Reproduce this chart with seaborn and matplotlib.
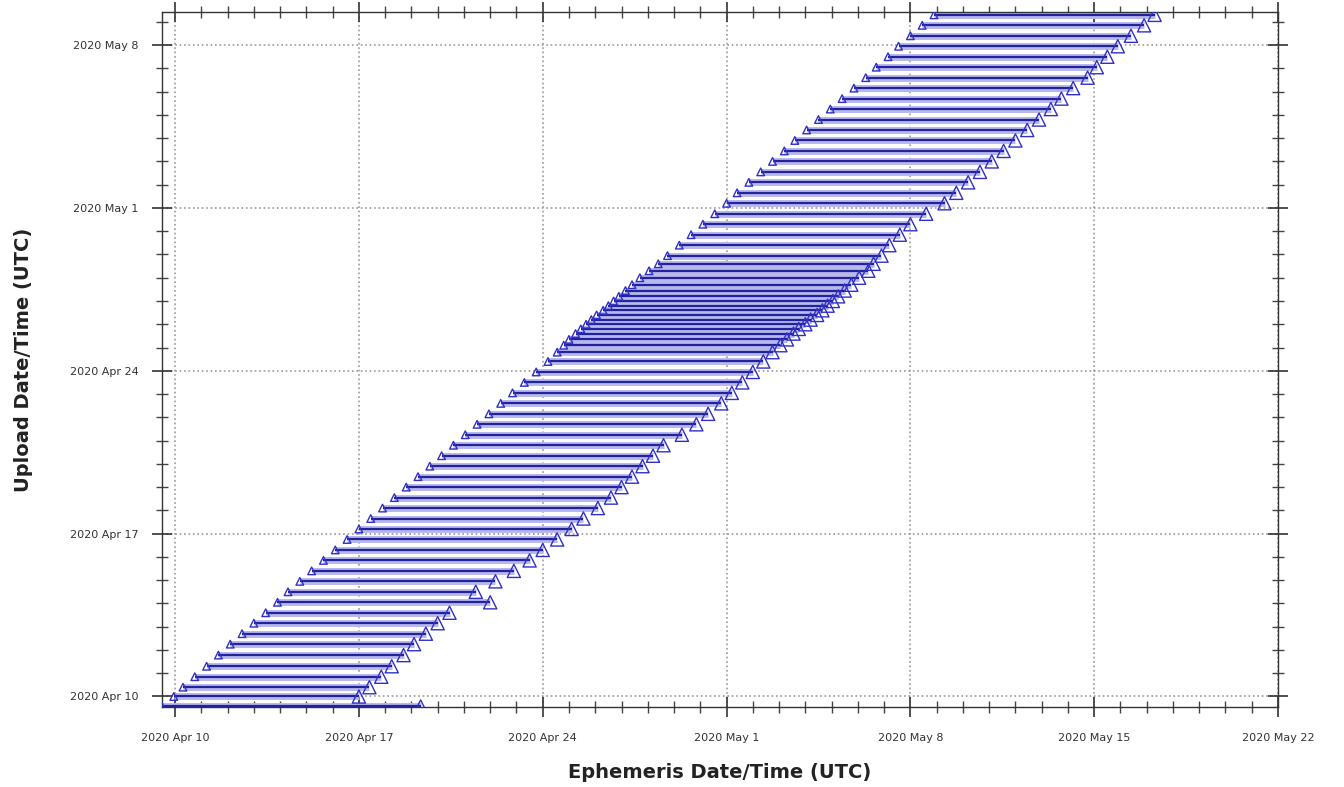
import matplotlib
matplotlib.use("Agg")
import matplotlib.pyplot as plt
import matplotlib.dates as mdates
from matplotlib.ticker import FuncFormatter, FixedLocator
import pandas as pd
import seaborn as sns

# ---- data (day-of-April numbers: 10.0 = 2020 Apr 10 00:00 UTC, 31.0 = May 1) ----
upload = [9.57, 10.00, 10.40, 10.85, 11.30, 11.78, 12.25, 12.70, 13.15, 13.60,
          14.05, 14.50, 14.95, 15.40, 15.85, 16.30, 16.75, 17.20, 17.65, 18.10,
          18.55, 19.00, 19.45, 19.90, 20.35, 20.80, 21.25, 21.70, 22.15, 22.60,
          23.05, 23.50, 23.95, 24.40, 24.80, 25.10, 25.35, 25.60, 25.80, 26.00,
          26.20, 26.40, 26.60, 26.80, 27.00, 27.20, 27.45, 27.70, 28.00, 28.30,
          28.60, 28.95, 29.40, 29.85, 30.30, 30.75, 31.20, 31.65, 32.10, 32.55,
          33.00, 33.45, 33.90, 34.35, 34.80, 35.25, 35.70, 36.15, 36.60, 37.05,
          37.50, 37.95, 38.40, 38.85, 39.30]
eph_start = [9.50, 9.95, 10.30, 10.75, 11.20, 11.65, 12.10, 12.55, 13.00, 13.45,
             13.90, 14.30, 14.75, 15.20, 15.65, 16.10, 16.55, 17.00, 17.45, 17.90,
             18.35, 18.80, 19.25, 19.70, 20.15, 20.60, 21.05, 21.50, 21.95, 22.40,
             22.85, 23.30, 23.75, 24.20, 24.55, 24.80, 25.00, 25.25, 25.45, 25.65,
             25.85, 26.05, 26.30, 26.50, 26.70, 26.90, 27.15, 27.40, 27.70, 28.05,
             28.40, 28.75, 29.20, 29.65, 30.10, 30.55, 31.00, 31.40, 31.85, 32.30,
             32.75, 33.20, 33.60, 34.05, 34.50, 34.95, 35.40, 35.85, 36.30, 36.70,
             37.15, 37.55, 38.00, 38.45, 38.90]
eph_end = [19.35, 17.00, 17.40, 17.85, 18.25, 18.70, 19.10, 19.55, 20.00, 20.45,
           22.00, 21.45, 22.20, 22.90, 23.50, 24.00, 24.55, 25.10, 25.55, 26.10,
           26.60, 27.00, 27.40, 27.80, 28.20, 28.60, 29.30, 29.85, 30.30, 30.80,
           31.20, 31.60, 32.00, 32.40, 32.75, 33.05, 33.30, 33.55, 33.75, 34.00,
           34.20, 34.45, 34.65, 34.85, 35.05, 35.25, 35.50, 35.75, 36.05, 36.40,
           36.60, 36.90, 37.20, 37.60, 38.00, 38.60, 39.30, 39.75, 40.20, 40.65,
           41.10, 41.55, 42.00, 42.45, 42.90, 43.35, 43.75, 44.20, 44.75, 45.10,
           45.50, 45.90, 46.40, 46.90, 47.30]

x_ticks = ["2020-04-10", "2020-04-17", "2020-04-24", "2020-05-01",
           "2020-05-08", "2020-05-15", "2020-05-22"]
y_ticks = ["2020-04-10", "2020-04-17", "2020-04-24", "2020-05-01", "2020-05-08"]
x_range = [9.5, 52.0]
y_range = [9.55, 39.42]

base = pd.Timestamp("2020-03-31")


def to_dt(vals):
    return base + pd.to_timedelta(pd.Series(vals, dtype=float), unit="D")


df = pd.DataFrame({
    "upload": to_dt(upload),
    "start": to_dt(eph_start),
    "end": to_dt(eph_end),
})

sns.set_theme(style="white")
plt.rcParams["font.family"] = ["DejaVu Sans"]

fig = plt.figure(figsize=(13.44, 7.87), dpi=100)
ax = fig.add_axes([0.1205, 0.1017, 0.8304, 0.883])

ax.hlines(df["upload"], df["start"], df["end"], colors="#b8b8ee", linewidth=5.0, zorder=2)
ax.hlines(df["upload"], df["start"], df["end"], colors="#22229a", linewidth=1.6, zorder=3)

sns.scatterplot(data=df, x="start", y="upload", marker="^", s=30,
                facecolors="none", edgecolor="#3030c8", linewidth=1.0, ax=ax, zorder=4)
sns.scatterplot(data=df, x="end", y="upload", marker="^", s=90,
                facecolors="none", edgecolor="#3030c8", linewidth=1.0, ax=ax, zorder=4)

xr = to_dt(x_range)
yr = to_dt(y_range)
ax.set_xlim(xr.iloc[0], xr.iloc[1])
ax.set_ylim(yr.iloc[0], yr.iloc[1])

ax.xaxis.set_major_locator(FixedLocator(mdates.date2num(pd.to_datetime(x_ticks))))
ax.yaxis.set_major_locator(FixedLocator(mdates.date2num(pd.to_datetime(y_ticks))))
ax.xaxis.set_minor_locator(mdates.DayLocator())
ax.yaxis.set_minor_locator(mdates.DayLocator())


def fmt(v, pos):
    d = mdates.num2date(v)
    return d.strftime("%Y %b ") + str(d.day)


ax.xaxis.set_major_formatter(FuncFormatter(fmt))
ax.yaxis.set_major_formatter(FuncFormatter(fmt))

ax.tick_params(which="major", direction="inout", length=14, width=1.2,
               labelsize=8, labelcolor="#333333", color="#333333",
               top=True, right=True, bottom=True, left=True)
ax.tick_params(which="minor", direction="inout", length=8, width=1.0,
               color="#444444", top=True, right=True, bottom=True, left=True)
ax.tick_params(axis="x", which="major", pad=12)
ax.tick_params(axis="y", which="major", pad=10)

ax.grid(True, which="major", linestyle=":", color="#999999", linewidth=1.2)
for s in ax.spines.values():
    s.set_color("#333333")
    s.set_linewidth(1.0)

ax.set_xlabel("Ephemeris Date/Time (UTC)", fontsize=14, fontweight="bold",
              color="#222222", labelpad=14)
ax.set_ylabel("Upload Date/Time (UTC)", fontsize=14, fontweight="bold",
              color="#222222", labelpad=26)

fig.savefig("out.png", dpi=100)
